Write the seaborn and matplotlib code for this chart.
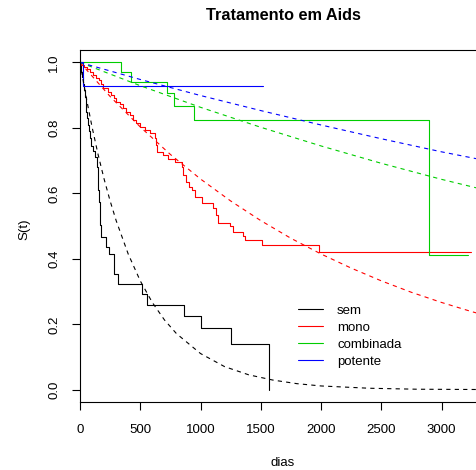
import numpy as np
import pandas as pd
import matplotlib
matplotlib.use("Agg")
import matplotlib.pyplot as plt
from matplotlib.ticker import FormatStrFormatter
import seaborn as sns

# ----------------------------
# DATA
# ----------------------------
GROUPS = ["sem", "mono", "combinada", "potente"]
COLORS = {"sem": "#000000", "mono": "#FF0000", "combinada": "#00CD00", "potente": "#0000FF"}

# Kaplan-Meier steps: time (dias) and S(t) after each step
sem_t = [0, 8, 16, 24, 32, 40, 47, 52, 58, 64, 72, 83, 95, 110, 125, 138, 146, 150,
         156, 162, 168, 175, 213, 241, 282, 313, 517, 559, 861, 1004, 1251, 1566]
sem_s = [1.0, 0.97, 0.955, 0.935, 0.915, 0.895, 0.87, 0.85, 0.83, 0.81, 0.79, 0.77, 0.745,
         0.73, 0.71, 0.68, 0.64, 0.61, 0.575, 0.54, 0.505, 0.467, 0.437, 0.415, 0.354,
         0.324, 0.293, 0.26, 0.226, 0.19, 0.141, 0.0]

mono_t = [0, 10, 33, 61, 80, 108, 135, 155, 172, 191, 232, 260, 282, 301, 329, 357, 384,
          412, 440, 467, 495, 540, 581, 622, 632, 642, 692, 733, 788, 844, 851, 858, 880,
          907, 927, 954, 1010, 1107, 1129, 1148, 1245, 1267, 1350, 1369, 1508, 1986, 3242]
mono_s = [1.0, 0.993, 0.987, 0.98, 0.972, 0.962, 0.954, 0.947, 0.933, 0.921, 0.911, 0.901,
          0.891, 0.88, 0.872, 0.86, 0.85, 0.838, 0.824, 0.814, 0.804, 0.794, 0.784, 0.768,
          0.748, 0.728, 0.718, 0.704, 0.697, 0.682, 0.668, 0.656, 0.636, 0.621, 0.611, 0.59,
          0.57, 0.555, 0.534, 0.509, 0.499, 0.483, 0.471, 0.458, 0.443, 0.42, 0.42]

comb_t = [0, 340, 421, 724, 780, 946, 2899, 3217]
comb_s = [1.0, 0.97, 0.94, 0.906, 0.868, 0.824, 0.412, 0.412]

pot_t = [0, 22, 1516]
pot_s = [1.0, 0.929, 0.929]

# fitted exponential curves (dashed)
sem_fit_t = [0, 50, 100, 150, 200, 250, 300, 400, 500, 600, 700, 800, 1000, 1200, 1400,
             1600, 1800, 2000, 2400, 2800, 3400]
sem_fit_s = [1.0, 0.896, 0.803, 0.719, 0.644, 0.577, 0.517, 0.415, 0.333, 0.267, 0.214,
             0.172, 0.111, 0.071, 0.046, 0.030, 0.019, 0.012, 0.005, 0.002, 0.001]
mono_fit_t = [0, 250, 500, 750, 1000, 1250, 1500, 1750, 2000, 2250, 2500, 2750, 3000, 3250, 3400]
mono_fit_s = [1.0, 0.896, 0.803, 0.719, 0.644, 0.577, 0.517, 0.463, 0.415, 0.372, 0.333,
              0.298, 0.267, 0.239, 0.224]
comb_fit_t = [0, 500, 1000, 1500, 2000, 2500, 3000, 3400]
comb_fit_s = [1.0, 0.929, 0.863, 0.802, 0.745, 0.692, 0.643, 0.607]
pot_fit_t = [0, 500, 1000, 1500, 2000, 2500, 3000, 3400]
pot_fit_s = [1.0, 0.948, 0.899, 0.853, 0.809, 0.767, 0.727, 0.698]

X_TICKS = [0, 500, 1000, 1500, 2000, 2500, 3000]
Y_TICKS = [0.0, 0.2, 0.4, 0.6, 0.8, 1.0]


def long_df(pairs):
    rows = []
    for grp, (t, s) in zip(GROUPS, pairs):
        for ti, si in zip(t, s):
            rows.append({"grupo": grp, "dias": ti, "S": si})
    return pd.DataFrame(rows)


km = long_df([(sem_t, sem_s), (mono_t, mono_s), (comb_t, comb_s), (pot_t, pot_s)])
fit = long_df([(sem_fit_t, sem_fit_s), (mono_fit_t, mono_fit_s),
               (comb_fit_t, comb_fit_s), (pot_fit_t, pot_fit_s)])

# ----------------------------
# PLOT
# ----------------------------
sns.set_theme(style="ticks")
plt.rcParams["font.family"] = ["Liberation Sans", "DejaVu Sans"]
plt.rcParams["text.color"] = "black"

W, H = 476, 470
fig = plt.figure(figsize=(W / 100, H / 100), dpi=100)
ax = fig.add_axes([80 / W, 68 / H, 406 / W, 352 / H])

sns.lineplot(data=km, x="dias", y="S", hue="grupo", hue_order=GROUPS, palette=COLORS,
             estimator=None, sort=False, drawstyle="steps-post", linewidth=0.8, ax=ax)
sns.lineplot(data=fit, x="dias", y="S", hue="grupo", hue_order=GROUPS, palette=COLORS,
             estimator=None, sort=False, linewidth=0.8, linestyle=(0, (3.8, 3.8)),
             legend=False, ax=ax)

ax.set_xlim(0, 3369)
ax.set_ylim(-0.037, 1.038)
ax.set_xticks(X_TICKS)
ax.set_yticks(Y_TICKS)
ax.yaxis.set_major_formatter(FormatStrFormatter("%.1f"))

for sp in ax.spines.values():
    sp.set_visible(True)
    sp.set_linewidth(0.8)
    sp.set_color("black")

ax.tick_params(axis="both", length=5.8, width=0.8, color="black", labelsize=9.5,
               labelcolor="black")
ax.tick_params(axis="x", pad=10)
ax.tick_params(axis="y", pad=8.6)
plt.setp(ax.get_yticklabels(), rotation=90, va="center")

ax.set_xlabel("dias", fontsize=9.5, color="black")
ax.set_ylabel("S(t)", fontsize=9.5, color="black")
ax.xaxis.set_label_coords(0.5, -0.156)
ax.yaxis.set_label_coords(-0.123, 0.49)
ax.set_title("Tratamento em Aids", fontsize=11.7, fontweight="bold", pad=21.6, color="black")

sns.move_legend(ax, "upper left", bbox_to_anchor=(0.537, 0.277), frameon=False,
                title=None, fontsize=9.5, handlelength=1.9, handletextpad=1.06,
                labelspacing=0.36, borderpad=0, borderaxespad=0)
for txt in ax.get_legend().get_texts():
    txt.set_color("black")

fig.savefig("out.png", dpi=100)
